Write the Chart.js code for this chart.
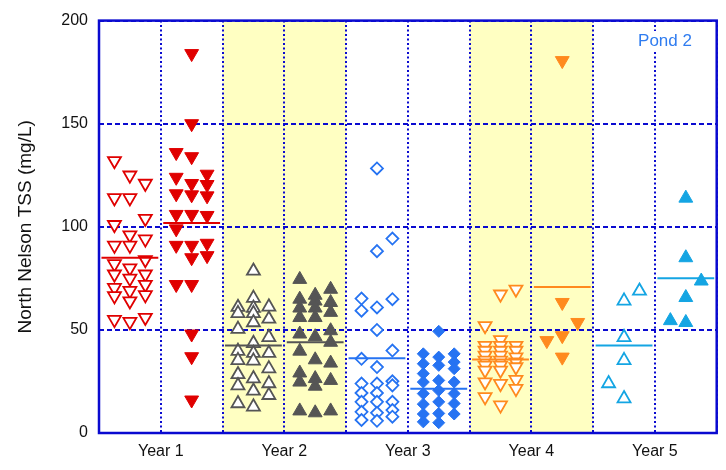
<!DOCTYPE html>
<html>
<head>
<meta charset="utf-8">
<script src="https://cdn.jsdelivr.net/npm/chart.js@4.4.0/dist/chart.umd.min.js"></script>
<style>
html, body { margin: 0; padding: 0; background: #fff; }
#wrap { width: 726px; height: 470px; }
</style>
</head>
<body>
<div id="wrap"><canvas id="tssChart" width="726" height="470"></canvas></div>
<script>
// tick labels
const xTickLabels = ['Year 1', 'Year 2', 'Year 3', 'Year 4', 'Year 5'];
const yTicks = [0, 50, 100, 150, 200];

// TSS values per column, each split in [left, middle, right] lanes
const year1Open = [
    [132, 114, 101, 91, 82, 77, 70.5, 66.5, 55],
    [125, 114, 96, 91, 80, 75, 69, 64, 54],
    [121, 104, 94, 84, 77, 72, 67, 56]
];
const year1Filled = [
    [136, 124, 116, 106, 99, 91, 72],
    [184, 150, 134, 121, 115.5, 106, 91, 85, 72, 48, 37, 16],
    [125.5, 120.5, 115, 105.5, 92, 86]
];
const year2Open = [
    [61, 58, 50.4, 39.7, 35.2, 28.4, 23, 14.3],
    [78.6, 65.4, 60.6, 58, 53.6, 43.5, 38.7, 35, 26.4, 20.4, 12.7],
    [61.2, 55.3, 46.4, 38.7, 31.2, 24, 18.3]
];
const year2Filled = [
    [74.5, 64.9, 60.6, 56, 48, 39.7, 29.1, 24.7, 10.7],
    [66.8, 64, 60.6, 56, 46.7, 35.5, 26.4, 22.7, 9.8],
    [69.7, 63.3, 58.5, 49.6, 44, 33.9, 25.5, 10.7]
];
const year3Open = [
    [65.2, 59.3, 36, 24, 19.4, 15.1, 10.3, 6.3],
    [128.3, 88.2, 60.9, 50, 32, 24, 19.4, 15.1, 9.8, 5.9],
    [94.3, 64.9, 40, 25.1, 23.1, 15.1, 11.1, 7.9]
];
const year3Filled = [
    [38.4, 33.6, 28.8, 24.7, 19.1, 14, 9.2, 5.4],
    [49.3, 36.8, 32.8, 25.5, 20.7, 15.1, 9.5, 5],
    [38.4, 34.4, 31.2, 24.7, 19.1, 14.3, 9.2]
];
const year4Open = [
    [52, 42.4, 40, 37.6, 35.2, 32.8, 30.4, 24.7, 17.5],
    [67.3, 45.2, 42.4, 40, 37.6, 35.2, 32.8, 30.4, 23.9, 13.5],
    [69.7, 42.4, 40, 36.8, 34.4, 32, 25.9, 21.5]
];
const year4Filled = [
    [44.8],
    [180.6, 63.3, 47.2, 36.8],
    [53.6]
];
const year5Open = [
    [24],
    [64.1, 46.4, 35.2, 16.7],
    [68.9]
];
const year5Filled = [
    [54.5],
    [113.9, 85, 65.7, 53.6],
    [73.7]
];

// horizontal line drawn in each column
const meanLines = [85, 101.8, 42.4, 44, 36.3, 21.5, 35.7, 70.8, 42.4, 75];

const columns = [year1Open, year1Filled, year2Open, year2Filled, year3Open,
                 year3Filled, year4Open, year4Filled, year5Open, year5Filled];

// stile di ogni colonna
const colStyles = [
    { color: '#e00000', shape: 'triangle', rot: 180, open: true },
    { color: '#e00000', shape: 'triangle', rot: 180, open: false },
    { color: '#555555', shape: 'triangle', rot: 0, open: true },
    { color: '#555555', shape: 'triangle', rot: 0, open: false },
    { color: '#2673f2', shape: 'rectRot', rot: 0, open: true },
    { color: '#2673f2', shape: 'rectRot', rot: 0, open: false },
    { color: '#ff8a1e', shape: 'triangle', rot: 180, open: true },
    { color: '#ff8a1e', shape: 'triangle', rot: 180, open: false },
    { color: '#14a5e3', shape: 'triangle', rot: 0, open: true },
    { color: '#14a5e3', shape: 'triangle', rot: 0, open: false }
];
const lanes = [-0.25, 0, 0.25];
const gridBlue = '#0a0ad0';

const datasets = [];
columns.forEach((col, c) => {
    const st = colStyles[c];
    const pts = [];
    col.forEach((laneVals, i) => {
        laneVals.forEach(v => pts.push({ x: c + 0.5 + lanes[i], y: v }));
    });
    datasets.push({
        type: 'scatter',
        data: [{ x: c + 0.04, y: meanLines[c] }, { x: c + 0.96, y: meanLines[c] }],
        showLine: true,
        borderColor: st.color,
        borderWidth: 2,
        pointRadius: 0
    });
    let r = 6;
    if (st.shape === 'triangle') r = st.open ? 7.5 : 8;
    datasets.push({
        type: 'scatter',
        data: pts,
        pointStyle: st.shape,
        pointRotation: st.rot,
        pointRadius: r,
        backgroundColor: st.open ? '#ffffff' : st.color,
        borderColor: st.color,
        borderWidth: st.open ? 1.8 : 1
    });
});

// fasce gialle (Year 2 e Year 4)
const bandPlugin = {
    id: 'bands',
    beforeDraw(chart) {
        const { ctx, chartArea, scales } = chart;
        ctx.save();
        ctx.fillStyle = '#ffffc2';
        [[2, 4], [6, 8]].forEach(([a, b]) => {
            const x0 = scales.x.getPixelForValue(a);
            const x1 = scales.x.getPixelForValue(b);
            ctx.fillRect(x0, chartArea.top, x1 - x0, chartArea.bottom - chartArea.top);
        });
        ctx.restore();
    },
    afterDraw(chart) {
        const { ctx, chartArea } = chart;
        ctx.save();
        // cornice
        ctx.strokeStyle = gridBlue;
        ctx.lineWidth = 2.5;
        ctx.strokeRect(chartArea.left, chartArea.top, chartArea.right - chartArea.left, chartArea.bottom - chartArea.top);
        // etichetta Pond 2
        ctx.font = '17px "Liberation Sans", Arial, sans-serif';
        ctx.textAlign = 'center';
        ctx.textBaseline = 'middle';
        const tx = 665, ty = 41;
        const w = ctx.measureText('Pond 2').width;
        ctx.fillStyle = '#ffffff';
        ctx.fillRect(tx - w / 2 - 3, ty - 10, w + 6, 20);
        ctx.fillStyle = '#2f7cf0';
        ctx.fillText('Pond 2', tx, ty);
        ctx.restore();
    }
};

const ctx = document.getElementById('tssChart').getContext('2d');
new Chart(ctx, {
    type: 'scatter',
    data: { datasets: datasets },
    plugins: [bandPlugin],
    options: {
        responsive: false,
        animation: false,
        layout: { padding: { top: 18, right: 1, left: 0, bottom: 0 } },
        plugins: { legend: { display: false }, tooltip: { enabled: false } },
        scales: {
            x: {
                type: 'linear',
                min: 0,
                max: 10,
                afterFit: s => { s.height = 37; },
                afterBuildTicks: s => {
                    s.ticks = [0, 1, 2, 3, 4, 5, 6, 7, 8, 9, 10].map(v => ({ value: v }));
                },
                ticks: {
                    autoSkip: false,
                    maxRotation: 0,
                    padding: 9,
                    color: '#111',
                    font: { family: '"Liberation Sans", Arial, sans-serif', size: 16 },
                    callback: v => (v % 2 === 1 ? xTickLabels[(v - 1) / 2] : '')
                },
                grid: { color: gridBlue, lineWidth: 2, drawTicks: false },
                border: { display: false, dash: [2, 2.5] }
            },
            y: {
                min: 0,
                max: 200,
                afterFit: s => { s.width = 99; },
                afterBuildTicks: s => { s.ticks = yTicks.map(v => ({ value: v })); },
                ticks: {
                    padding: 11,
                    color: '#111',
                    font: { family: '"Liberation Sans", Arial, sans-serif', size: 16 }
                },
                grid: { color: gridBlue, lineWidth: 2, drawTicks: false },
                border: { display: false, dash: [5, 3] },
                title: {
                    display: true,
                    text: 'North Nelson TSS (mg/L)',
                    color: '#111',
                    padding: { top: 14, bottom: 0 },
                    font: { family: '"Liberation Sans", Arial, sans-serif', size: 19 }
                }
            }
        }
    }
});
</script>
</body>
</html>
